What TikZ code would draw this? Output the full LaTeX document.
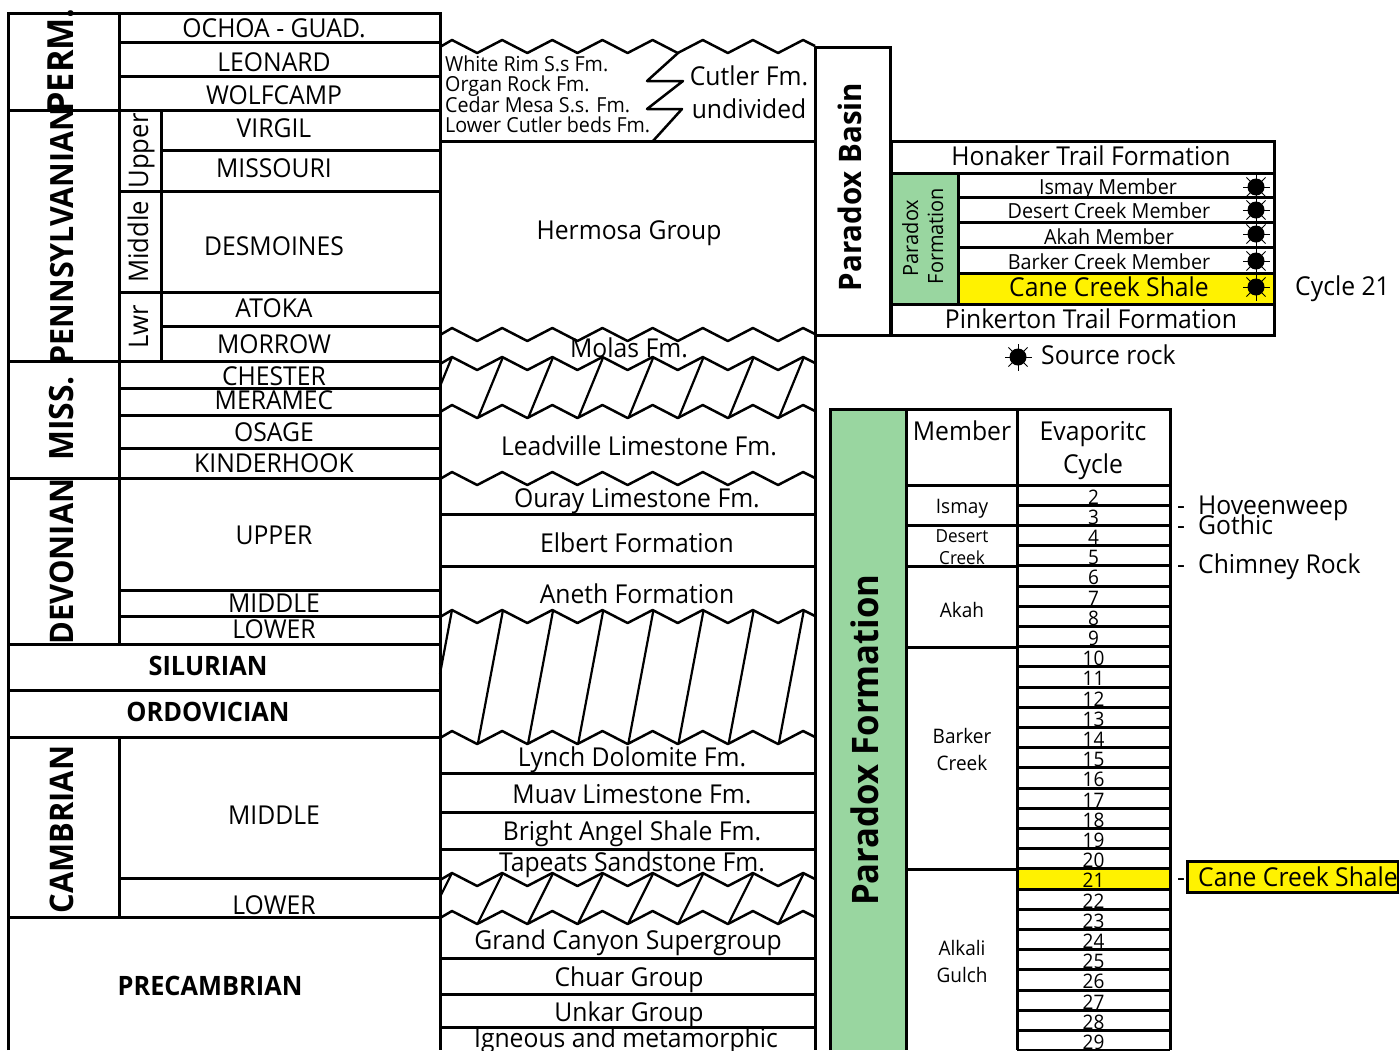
\documentclass[tikz,border=0pt]{standalone}
\usepackage{fontspec}
\setmainfont[FakeStretch=0.95]{Open Sans}
\definecolor{evapgreen}{HTML}{99D6A0}
\definecolor{shaleyellow}{HTML}{FFF200}
\newcommand{\fsz}[1]{\fontsize{#1}{#1}\selectfont}
% unconformity line, argument is the y of its crests
\newcommand{\wavy}[1]{\draw[wave] (440,#1+7) -- (452,#1) \foreach \k in {1,...,7}{ -- (452+50.15*\k-25,#1+13) -- (452+50.15*\k,#1)} -- (815,#1+6);}
% missing section between two wavy lines
\newcommand{\gap}[2]{\draw[hatchline] (440,#1*0.52+#2*0.48) -- (452,#1);
\foreach \k in {0,...,6}{\draw[hatchline] (478+50.15*\k,#2) -- (503+50.15*\k,#1);}}
\tikzset{
  rule/.style={line width=3pt},
  wave/.style={line width=2.5pt,line join=round},
  hatchline/.style={line width=2.2pt},
  lbl/.style={anchor=base,inner sep=0pt,font=\fsz{26}},
  lft/.style={lbl,anchor=base west},
  bld/.style={lbl,font=\fsz{26.7}\bfseries},
  era/.style={lbl,rotate=90,font=\fsz{32}\bfseries},
  sub/.style={lbl,rotate=90,font=\fsz{27}},
  member/.style={lbl,font=\fsz{20.8}},
  small/.style={lbl,font=\fsz{20}},
  cycnum/.style={lbl,font=\fsz{20}},
  rocksun/.pic={
    \fill (0,0) circle (8.5);
    \foreach \a in {0,45,...,315}{\draw[line width=0.9pt] (0,0) -- (\a:13.5);}
  }
}
\begin{document}
\begin{tikzpicture}[x=1pt,y=-1pt]
\useasboundingbox (0,0) rectangle (1399,1050);
\clip (0,0) rectangle (1399,1050);
% fills
\fill[evapgreen] (891,173) rectangle (958,304);
\fill[shaleyellow] (958,273) rectangle (1274,304);
\fill[evapgreen] (830,409) rectangle (906,1050);
\fill[shaleyellow] (1017,869) rectangle (1170,889);
\fill[shaleyellow] (1187,861) rectangle (1398,892);
% time scale
\draw[rule] (8,1050) -- (8,13) -- (440,13) -- (440,1050);
\draw[rule] (119,13) -- (119,644);
\draw[rule] (119,737) -- (119,917);
\draw[rule] (161,110) -- (161,361);
\foreach \y in {42,76,388,415,448,590,616,878}{\draw[rule] (119,\y) -- (440,\y);}
\foreach \y in {150,191,292,326}{\draw[rule] (161,\y) -- (440,\y);}
\draw[rule] (119,191) -- (161,191);
\draw[rule] (119,292) -- (161,292);
\foreach \y in {110,361,478,644,690,737,917}{\draw[rule] (8,\y) -- (440,\y);}
% formations
\draw[rule] (815,47) -- (815,1050);
\foreach \y in {141,514,566,773,812,849,958,994,1027}{\draw[rule] (440,\y) -- (815,\y);}
\wavy{40}
\wavy{328}
\wavy{357}
\wavy{405}
\wavy{472}
\wavy{610}
\wavy{731}
\wavy{873}
\wavy{911}
\gap{357}{418}
\gap{610}{743}
\gap{873}{923}
\draw[wave] (678,53) -- (647,81) -- (683,81) -- (647,109) -- (682,109) -- (653,141);
% basin box and upper table
\draw[rule] (815,47) -- (890,47) -- (890,335);
\draw[rule] (815,335) -- (1274,335) -- (1274,141) -- (891,141) -- (891,335);
\draw[rule] (958,173) -- (958,304);
\draw[rule] (891,173) -- (1274,173);
\foreach \y in {197,222,247,273}{\draw[rule] (958,\y) -- (1274,\y);}
\draw[rule] (891,304) -- (1274,304);
% lower table
\draw[rule] (830,1050) -- (830,409) -- (1170,409) -- (1170,1050);
\draw[rule] (906,409) -- (906,1050);
\draw[rule] (1017,409) -- (1017,1050);
\draw[rule] (906,485) -- (1170,485);
\foreach \y in {525,566,647,869}{\draw[rule] (906,\y) -- (1017,\y);}
\foreach \k in {1,...,28}{\draw[rule] (1017,485+20.2*\k) -- (1170,485+20.2*\k);}
\draw[rule] (1187,861) rectangle (1398,892);
% periods
\node[era,font=\fsz{36}\bfseries] (perm) at (73,61) {PERM.};
\node[era,font=\fsz{32}\bfseries] (penn) at (73,235.5) {PENNSYLVANIAN};
\node[era,font=\fsz{33.5}\bfseries] (miss) at (73,418.5) {MISS.};
\node[era,font=\fsz{32.5}\bfseries] (devon) at (73,561.5) {DEVONIAN};
\node[era,font=\fsz{32.5}\bfseries] (camb) at (73,829.5) {CAMBRIAN};
\node[bld] (silur) at (208,675) {SILURIAN};
\node[bld] (ordov) at (208,721) {ORDOVICIAN};
\node[bld] (precamb) at (210,995) {PRECAMBRIAN};
\node[sub] (upperp) at (148,151) {Upper};
\node[sub] (middlep) at (148,242) {Middle};
\node[sub] (lwrp) at (148,327) {Lwr};
% stages
\node[lbl] (ochoa) at (274,37) {OCHOA - GUAD.};
\node[lbl] (leonard) at (274,71) {LEONARD};
\node[lbl] (wolfcamp) at (274,104) {WOLFCAMP};
\node[lbl] (virgil) at (274,137) {VIRGIL};
\node[lbl] (missouri) at (274,177) {MISSOURI};
\node[lbl] (desmoines) at (274,255) {DESMOINES};
\node[lbl] (atoka) at (274,317) {ATOKA};
\node[lbl] (morrow) at (274,353) {MORROW};
\node[lbl] (chester) at (274,385) {CHESTER};
\node[lbl] (meramec) at (274,409) {MERAMEC};
\node[lbl] (osage) at (274,441) {OSAGE};
\node[lbl] (kinder) at (274,472) {KINDERHOOK};
\node[lbl] (updev) at (274,544) {UPPER};
\node[lbl] (middev) at (274,612) {MIDDLE};
\node[lbl] (lowdev) at (274,638) {LOWER};
\node[lbl] (midcam) at (274,824) {MIDDLE};
\node[lbl] (lowcam) at (274,914) {LOWER};
% formation names
\node[lft,font=\fsz{20.7}] (whiterim) at (445,71) {White Rim S.s Fm.};
\node[lft,font=\fsz{20.7}] (organ) at (445,91) {Organ Rock Fm.};
\node[lft,font=\fsz{20.7}] (cedar) at (445,112) {Cedar Mesa S.s. Fm.};
\node[lft,font=\fsz{20.7}] (lowcut) at (445,132) {Lower Cutler beds Fm.};
\node[lbl] (cutler) at (749,85) {Cutler Fm.};
\node[lbl] (undiv) at (749,118) {undivided};
\node[lbl] (hermosa) at (629,239) {Hermosa Group};
\node[lbl] (molas) at (629,357) {Molas Fm.};
\node[lbl] (leadville) at (639,455) {Leadville Limestone Fm.};
\node[lbl] (ouray) at (637,507) {Ouray Limestone Fm.};
\node[lbl] (elbert) at (637,552) {Elbert Formation};
\node[lbl] (aneth) at (637,603) {Aneth Formation};
\node[lbl] (lynch) at (632,766) {Lynch Dolomite Fm.};
\node[lbl] (muav) at (632,803) {Muav Limestone Fm.};
\node[lbl] (bright) at (632,840) {Bright Angel Shale Fm.};
\node[lbl] (tapeats) at (632,871) {Tapeats Sandstone Fm.};
\node[lbl] (grand) at (628,949) {Grand Canyon Supergroup};
\node[lbl] (chuar) at (629,986) {Chuar Group};
\node[lbl] (unkar) at (629,1021) {Unkar Group};
\node[lbl] (igneous) at (626,1047) {Igneous and metamorphic};
% upper table text
\node[era,font=\fsz{31}\bfseries] (basin) at (861,187) {Paradox Basin};
\node[lbl] (honaker) at (1091,165) {Honaker Trail Formation};
\node[lbl,rotate=90,font=\fsz{21}] (parform) at (918,238) {Paradox};
\node[lbl,rotate=90,font=\fsz{21}] (parform2) at (943,236) {Formation};
\node[member] (ismaym) at (1108,194) {Ismay Member};
\node[member] (desertm) at (1109,218) {Desert Creek Member};
\node[member] (akahm) at (1109,244) {Akah Member};
\node[member] (barkerm) at (1109,269) {Barker Creek Member};
\node[lbl] (caneup) at (1109,296) {Cane Creek Shale};
\node[lbl] (pinkerton) at (1091,328) {Pinkerton Trail Formation};
\node[lft] (cycle) at (1295,295) {Cycle 21};
\node[lft] (source) at (1041,364) {Source rock};
\pic at (1256,187) {rocksun};
\pic at (1256,210) {rocksun};
\pic at (1256,234) {rocksun};
\pic at (1256,261) {rocksun};
\pic at (1256,287) {rocksun};
\pic at (1018,357) {rocksun};
% lower table text
\node[era,font=\fsz{36.5}\bfseries] (parlow) at (878,740) {Paradox Formation};
\node[lbl] (memhead) at (962,440) {Member};
\node[lbl] (evap) at (1093,440) {Evaporitc};
\node[lbl] (cychead) at (1093,473) {Cycle};
\node[small] (ismay) at (962,513) {Ismay};
\node[small,font=\fsz{18}] (desert) at (962,542) {Desert};
\node[small,font=\fsz{18}] (creek) at (962,564) {Creek};
\node[small] (akah) at (962,617) {Akah};
\node[small] (barker) at (962,743) {Barker};
\node[small] (bcreek) at (962,770) {Creek};
\node[small] (alkali) at (962,955) {Alkali};
\node[small] (gulch) at (962,982) {Gulch};
\foreach \c in {2,...,29}{\node[cycnum] (cyc\c) at (1093.5,504+20.2*\c-40.4) {\c};}
\node[lft] (d1) at (1177,514) {-};
\node[lft] (hoveen) at (1198,514) {Hoveenweep};
\node[lft] (d2) at (1177,534) {-};
\node[lft] (gothic) at (1198,534) {Gothic};
\node[lft] (d3) at (1177,573) {-};
\node[lft] (chimney) at (1198,573) {Chimney Rock};
\node[lft] (d4) at (1177,886) {-};
\node[lft] (canelow) at (1198,886) {Cane Creek Shale};
\end{tikzpicture}
\end{document}
